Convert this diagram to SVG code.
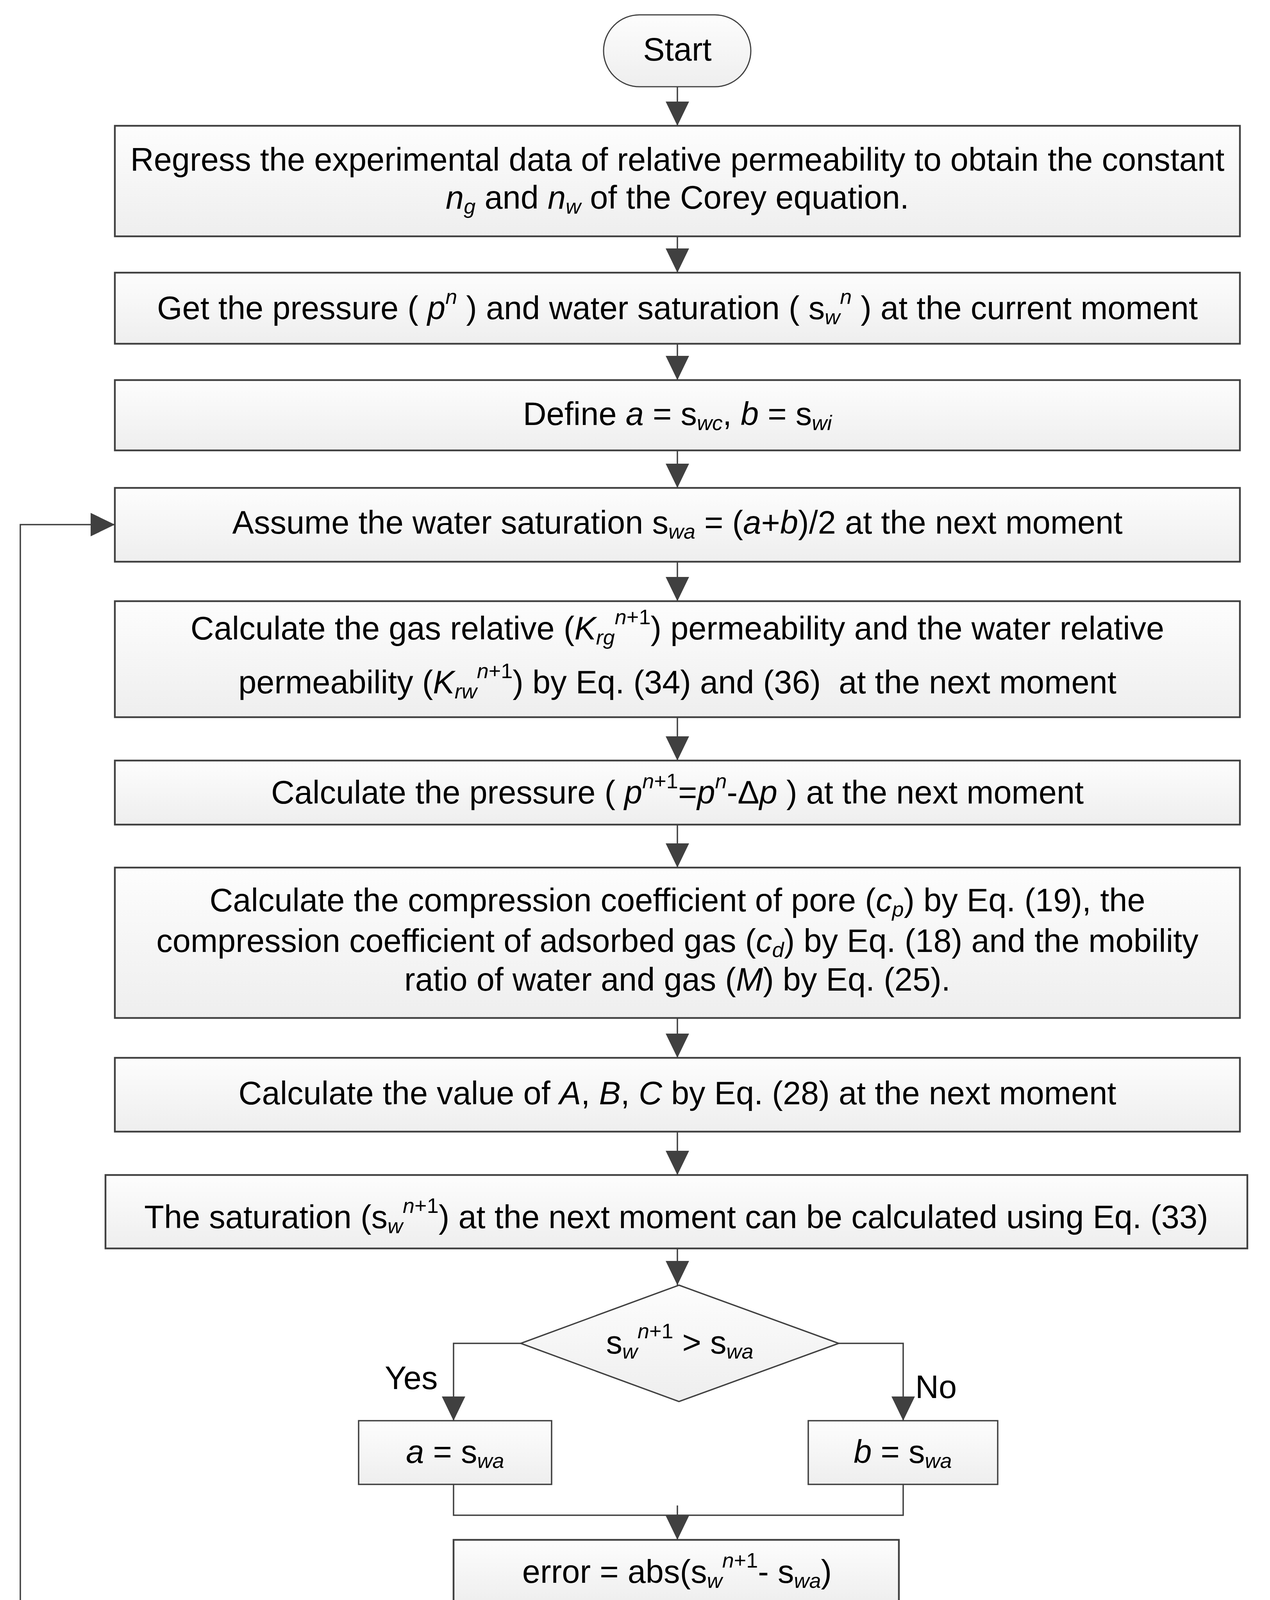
<svg xmlns="http://www.w3.org/2000/svg" width="3251" height="5472" viewBox="0 0 3251 5472">
<style>
.bg{fill:#ffffff}
.box{fill:url(#g);stroke:#404040;stroke-width:4.5}
.sm{fill:url(#g);stroke:#404040;stroke-width:3.5}
.term{fill:url(#g);stroke:#404040;stroke-width:3}
.dia{fill:url(#g);stroke:#404040;stroke-width:3.5}
.ln{fill:none;stroke:#404040;stroke-width:3.5}
.arr{fill:none;stroke:#404040;stroke-width:3.5;marker-end:url(#ah)}
.t{font-family:"Liberation Sans",Arial,sans-serif;font-size:83px;fill:#000;text-anchor:middle}
.l{font-family:"Liberation Sans",Arial,sans-serif;font-size:83px;fill:#000}
.s{font-size:54px}
.i{font-style:italic}
</style>
<defs>
<linearGradient id="g" x1="0" y1="0" x2="0" y2="1"><stop offset="0" stop-color="#fdfdfd"/><stop offset="1" stop-color="#eeeeee"/></linearGradient>
<marker id="ah" viewBox="0 0 62 60" refX="62" refY="30" markerWidth="62" markerHeight="60" markerUnits="userSpaceOnUse" orient="auto"><path d="M0,0 L62,30 L0,60 Z" fill="#404040"/></marker>
</defs>
<rect class="bg" x="0" y="0" width="3251" height="5472"/>

<g id="connectors">
<path class="arr" d="M1734,222 V322"/>
<path class="arr" d="M1734,605 V698"/>
<path class="arr" d="M1734,880 V973"/>
<path class="arr" d="M1734,1153 V1249"/>
<path class="arr" d="M1734,1438 V1539"/>
<path class="arr" d="M1734,1836 V1947"/>
<path class="arr" d="M1734,2111 V2221"/>
<path class="arr" d="M1734,2606 V2708"/>
<path class="arr" d="M1734,2897 V3008"/>
<path class="arr" d="M1734,3196 V3290"/>
<path class="arr" d="M1333,3439 H1161 V3637"/>
<path class="arr" d="M2147,3439 H2312 V3637"/>
<path class="ln" d="M1161,3783 V3879 H2312 V3783"/>
<path class="arr" d="M1734,3854 V3942"/>
<path class="arr" d="M1734,4105 V4193"/>
<path class="arr" d="M1734,4365 V4451"/>
<path class="arr" d="M1209,4619 H52 V1343 H294"/>
<path class="arr" d="M1734,4790 V4978"/>
<path class="arr" d="M1734,5167 V5252"/>
<text class="l" x="985" y="3556">Yes</text>
<text class="l" x="2343" y="3579">No</text>
<text class="l" x="607" y="4561">No</text>
<text class="l" x="1762" y="4898">Yes</text>
</g>

<g id="start">
<rect class="term" x="1545" y="38" width="377" height="184" rx="92" ry="92"/>
<text class="t" x="1734" y="155">Start</text>
</g>

<g id="box1">
<rect class="box" x="294" y="322" width="2880" height="283"/>
<text class="t" x="1734" y="437">Regress the experimental data of relative permeability to obtain the constant</text>
<text class="t" x="1734" y="534"><tspan class="i">n</tspan><tspan class="s i" dy="13">g</tspan><tspan dy="-13"> and </tspan><tspan class="i">n</tspan><tspan class="s i" dy="13">w</tspan><tspan dy="-13"> of the Corey equation.</tspan></text>
</g>

<g id="box2">
<rect class="box" x="294" y="698" width="2880" height="182"/>
<text class="t" x="1734" y="817">Get the pressure ( <tspan class="i">p</tspan><tspan class="s i" dy="-39">n</tspan><tspan dy="39"> ) and water saturation ( s</tspan><tspan class="s i" dy="13">w</tspan><tspan class="s i" dy="-52">n</tspan><tspan dy="39"> ) at the current moment</tspan></text>
</g>

<g id="box3">
<rect class="box" x="294" y="973" width="2880" height="180"/>
<text class="t" x="1734" y="1088">Define <tspan class="i">a</tspan> = s<tspan class="s i" dy="13">wc</tspan><tspan dy="-13">, </tspan><tspan class="i">b</tspan> = s<tspan class="s i" dy="13">wi</tspan></text>
</g>

<g id="box4">
<rect class="box" x="294" y="1249" width="2880" height="189"/>
<text class="t" x="1734" y="1366">Assume the water saturation s<tspan class="s i" dy="13">wa</tspan><tspan dy="-13"> = (</tspan><tspan class="i">a</tspan>+<tspan class="i">b</tspan>)/2 at the next moment</text>
</g>

<g id="box5">
<rect class="box" x="294" y="1539" width="2880" height="297"/>
<text class="t" x="1734" y="1637">Calculate the gas relative (<tspan class="i">K</tspan><tspan class="s i" dy="13">rg</tspan><tspan class="s" dy="-52"><tspan class="i">n</tspan>+1</tspan><tspan dy="39">) permeability and the water relative</tspan></text>
<text class="t" x="1734" y="1775">permeability (<tspan class="i">K</tspan><tspan class="s i" dy="13">rw</tspan><tspan class="s" dy="-52"><tspan class="i">n</tspan>+1</tspan><tspan dy="39">) by Eq. (34) and (36)&#160; at the next moment</tspan></text>
</g>

<g id="box6">
<rect class="box" x="294" y="1947" width="2880" height="164"/>
<text class="t" x="1734" y="2057">Calculate the pressure ( <tspan class="i">p</tspan><tspan class="s" dy="-39"><tspan class="i">n</tspan>+1</tspan><tspan dy="39">=</tspan><tspan class="i">p</tspan><tspan class="s i" dy="-39">n</tspan><tspan dy="39">-Δ</tspan><tspan class="i">p</tspan> ) at the next moment</text>
</g>

<g id="box7">
<rect class="box" x="294" y="2221" width="2880" height="385"/>
<text class="t" x="1734" y="2333">Calculate the compression coefficient of pore (<tspan class="i">c</tspan><tspan class="s i" dy="13">p</tspan><tspan dy="-13">) by Eq. (19), the</tspan></text>
<text class="t" x="1734" y="2437">compression coefficient of adsorbed gas (<tspan class="i">c</tspan><tspan class="s i" dy="13">d</tspan><tspan dy="-13">) by Eq. (18) and the mobility</tspan></text>
<text class="t" x="1734" y="2536">ratio of water and gas (<tspan class="i">M</tspan>) by Eq. (25).</text>
</g>

<g id="box8">
<rect class="box" x="294" y="2708" width="2880" height="189"/>
<text class="t" x="1734" y="2827">Calculate the value of <tspan class="i">A</tspan>, <tspan class="i">B</tspan>, <tspan class="i">C</tspan> by Eq. (28) at the next moment</text>
</g>

<g id="box9">
<rect class="box" x="270" y="3008" width="2923" height="188"/>
<text class="t" x="1731" y="3144">The saturation (s<tspan class="s i" dy="13">w</tspan><tspan class="s" dy="-52"><tspan class="i">n</tspan>+1</tspan><tspan dy="39">) at the next moment can be calculated using Eq. (33)</tspan></text>
</g>

<g id="decision1">
<polygon class="dia" points="1738,3290 2147,3439 1738,3588 1333,3439"/>
<text class="t" x="1740" y="3465">s<tspan class="s i" dy="13">w</tspan><tspan class="s" dy="-52"><tspan class="i">n</tspan>+1</tspan><tspan dy="39"> &gt; s</tspan><tspan class="s i" dy="13">wa</tspan></text>
</g>

<g id="boxA">
<rect class="sm" x="918" y="3637" width="494" height="163"/>
<text class="t" x="1165" y="3745"><tspan class="i">a</tspan> = s<tspan class="s i" dy="13">wa</tspan></text>
</g>

<g id="boxB">
<rect class="sm" x="2069" y="3637" width="485" height="163"/>
<text class="t" x="2311" y="3745"><tspan class="i">b</tspan> = s<tspan class="s i" dy="13">wa</tspan></text>
</g>

<g id="errorBox">
<rect class="box" x="1161" y="3942" width="1140" height="163"/>
<text class="t" x="1733" y="4052">error = abs(s<tspan class="s i" dy="13">w</tspan><tspan class="s" dy="-52"><tspan class="i">n</tspan>+1</tspan><tspan dy="39">- s</tspan><tspan class="s i" dy="13">wa</tspan><tspan dy="-13">)</tspan></text>
</g>

<g id="EBox">
<rect class="box" x="1161" y="4193" width="1140" height="172"/>
<text class="t" x="1733" y="4305">E = abs(<tspan class="i">a</tspan>- <tspan class="i">b</tspan>)</text>
</g>

<g id="decision2">
<polygon class="dia" points="1733,4451 2256,4619 1733,4790 1209,4619"/>
<text class="t" x="1733" y="4646">error &lt; err or E &lt; eps</text>
</g>

<g id="finalBox">
<rect class="box" x="411" y="4978" width="2651" height="189"/>
<text class="t" x="1736" y="5099">The saturation under the pressure <tspan class="i">p</tspan><tspan class="s" dy="-39"><tspan class="i">n</tspan>+1</tspan><tspan dy="39"> can be accepted as s</tspan><tspan class="s i" dy="13">w</tspan><tspan class="s" dy="-52"><tspan class="i">n</tspan>+1</tspan></text>
</g>

<g id="end">
<rect class="term" x="1545" y="5252" width="377" height="186" rx="93" ry="93"/>
<text class="t" x="1734" y="5373">End</text>
</g>
</svg>
